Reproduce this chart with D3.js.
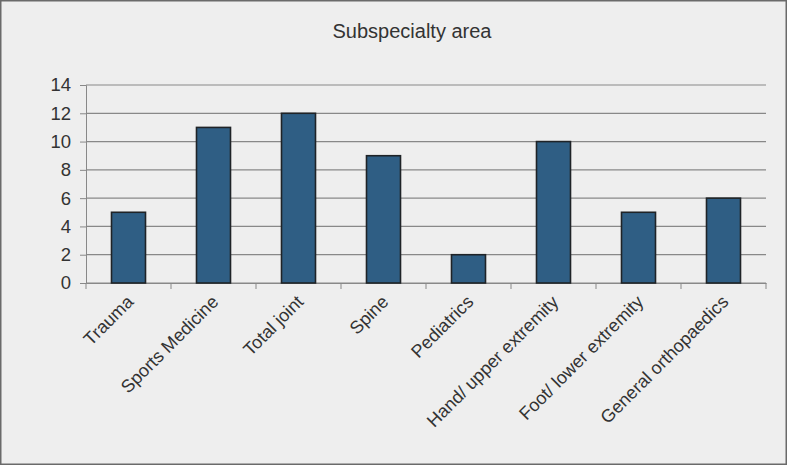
<!DOCTYPE html>
<html><head><meta charset="utf-8">
<script src="https://cdn.jsdelivr.net/npm/d3@7"></script>
<style>body{margin:0;background:#fff}svg{display:block}</style>
</head><body>
<script>
const categories = ["Trauma","Sports Medicine","Total joint","Spine","Pediatrics","Hand/ upper extremity","Foot/ lower extremity","General orthopaedics"];
const values = [5,11,12,9,2,10,5,6];
const yTicks = [0,2,4,6,8,10,12,14];
const title = "Subspecialty area";

const W=787,H=465;
const FONT="Liberation Sans, Arial, sans-serif";
const svg=d3.select("body").append("svg").attr("width",W).attr("height",H);
svg.append("rect").attr("x",0.75).attr("y",0.75).attr("width",W-1.5).attr("height",H-1.5)
  .attr("fill","#eeeeee").attr("stroke","#6a6a6a").attr("stroke-width",1.5);

const m={l:86,r:766,t:85,b:283};
const x=d3.scaleBand().domain(categories).range([m.l,m.r]).paddingInner(0.6).paddingOuter(0.3);
const xb=d3.scaleBand().domain(categories).range([m.l,m.r]);
const y=d3.scaleLinear().domain([0,14]).range([m.b,m.t]);

// gridlines
svg.append("g").selectAll("line").data(yTicks).join("line")
  .attr("x1",m.l).attr("x2",m.r).attr("y1",d=>y(d)).attr("y2",d=>y(d))
  .attr("stroke","#888").attr("stroke-width",1.2);

// y axis
const ya=svg.append("g").attr("transform",`translate(${m.l},0)`)
  .call(d3.axisLeft(y).tickValues(yTicks).tickSize(6).tickPadding(9));
ya.select(".domain").attr("stroke","#888");
ya.selectAll("line").attr("stroke","#888");
ya.selectAll("text").attr("font-family",FONT).attr("font-size",18.5).attr("fill","#333");

// x axis
const xa=svg.append("g").attr("transform",`translate(0,${m.b})`)
  .call(d3.axisBottom(xb).tickValues([]).tickSize(0));
xa.select(".domain").attr("stroke","#888");
const tickPos=d3.range(categories.length+1).map(i=>m.l+i*xb.step());
xa.selectAll("line.t").data(tickPos).join("line").attr("class","t")
  .attr("x1",d=>d).attr("x2",d=>d).attr("y1",0).attr("y2",6).attr("stroke","#888");

// bars
svg.append("g").selectAll("rect").data(values).join("rect")
  .attr("x",(d,i)=>x(categories[i])).attr("width",x.bandwidth())
  .attr("y",d=>y(d)).attr("height",d=>y(0)-y(d))
  .attr("fill","#2f5e84").attr("stroke","#1f2327").attr("stroke-width",1.6);

// category labels
svg.append("g").selectAll("text").data(categories).join("text")
  .attr("transform",d=>`translate(${xb(d)+xb.bandwidth()/2-1},${m.b+13}) rotate(-45)`)
  .attr("text-anchor","end").attr("dy","0.55em")
  .attr("font-family",FONT).attr("font-size",18).attr("fill","#333")
  .text(d=>d);

svg.append("text").attr("x",412).attr("y",38).attr("text-anchor","middle")
  .attr("font-family",FONT).attr("font-size",20).attr("fill","#333")
  .text(title);
</script>
</body></html>
